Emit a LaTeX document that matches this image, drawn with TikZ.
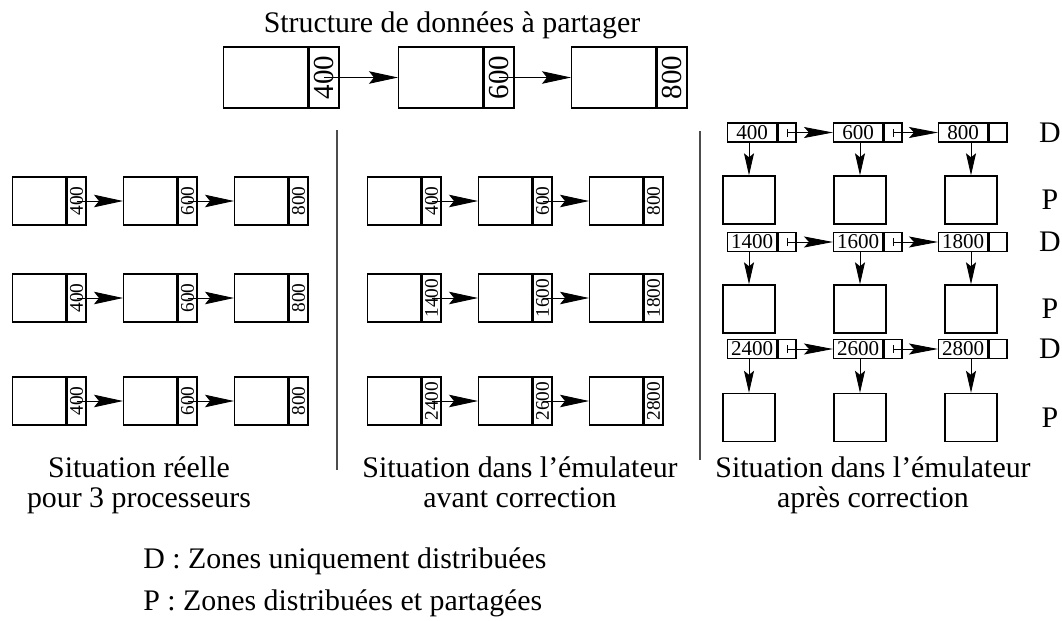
\documentclass[tikz,border=0pt]{standalone}
\usepackage{fontspec}
\setmainfont{Liberation Serif}
\usetikzlibrary{arrows.meta}

\begin{document}
\begin{tikzpicture}[x=0.02cm, y=-0.02cm,
    every node/.style={inner sep=0pt, font=\fontsize{17}{17}\selectfont},
    champ/.style={draw, line width=0.8pt},
    grand/.style={champ, anchor=west, minimum width=1.68cm, minimum height=1.22cm},
    grandptr/.style={champ, anchor=west, minimum width=0.6cm, minimum height=1.22cm, font=\fontsize{16.5}{16.5}\selectfont},
    moyen/.style={champ, anchor=west, minimum width=1.06cm, minimum height=0.96cm},
    moyenptr/.style={champ, anchor=west, minimum width=0.38cm, minimum height=0.96cm, font=\fontsize{11}{11}\selectfont},
    petit/.style={champ, anchor=west, minimum width=0.98cm, minimum height=0.38cm, font=\fontsize{12}{12}\selectfont},
    petitptr/.style={champ, anchor=west, minimum width=0.36cm, minimum height=0.38cm},
    zone/.style={champ, minimum width=1.04cm, minimum height=0.96cm},
    legende/.style={align=center, anchor=north},
    fleche/.style={line width=0.5pt, -{Stealth[length=0.58cm, width=0.25cm, inset=0.1cm]}},
    flecheD/.style={line width=0.5pt, {Bar[width=0.16cm]}-{Stealth[length=0.58cm, width=0.22cm, inset=0.1cm]}},
    flechebas/.style={line width=0.5pt, -{Stealth[length=0.44cm, width=0.2cm, inset=0.08cm]}},
    separation/.style={draw=black!70, line width=0.9pt}]

    \useasboundingbox (0,0) rectangle (1062,620);

    % Structure de depart
    \node (titre) at (452,25) {Structure de données à partager};
    \foreach \i/\x/\v in {1/223/400, 2/398/600, 3/571/800} {
        \node[grand] (s\i) at (\x,77.5) {};
        \node[grandptr] (sp\i) at (s\i.east) {\rotatebox{90}{\v}};
    }
    \foreach \i/\j in {1/2, 2/3}
        \draw[fleche] (sp\i.center) -- (s\j.west);

    % Situation reelle
    \foreach \r/\y in {1/201, 2/298, 3/401} {
        \foreach \c/\x/\v in {1/12/400, 2/123/600, 3/234/800} {
            \node[moyen] (g\r\c) at (\x,\y) {};
            \node[moyenptr] (gp\r\c) at (g\r\c.east) {\rotatebox{90}{\v}};
        }
        \draw[fleche] (gp\r1.center) -- (g\r2.west);
        \draw[fleche] (gp\r2.center) -- (g\r3.west);
    }

    % Emulateur avant correction
    \foreach \r/\y/\m in {1/201/{}, 2/298/1, 3/401/2} {
        \foreach \c/\x/\v in {1/367/4, 2/478/6, 3/589/8} {
            \node[moyen] (e\r\c) at (\x,\y) {};
            \node[moyenptr] (ep\r\c) at (e\r\c.east) {\rotatebox{90}{\m\v00}};
        }
        \draw[fleche] (ep\r1.center) -- (e\r2.west);
        \draw[fleche] (ep\r2.center) -- (e\r3.west);
    }

    % Emulateur apres correction
    \foreach \r/\yd/\yp/\m in {1/132.5/200/{}, 2/242/309/1, 3/349/417.5/2} {
        \foreach \c/\xd/\xp/\v in {1/727/749/4, 2/833/860/6, 3/938/971/8} {
            \node[petit] (d\r\c) at (\xd,\yd) {\m\v00};
            \node[petitptr] (dp\r\c) at (d\r\c.east) {};
            \node[zone] (p\r\c) at (\xp,\yp) {};
            \draw[flechebas] (p\r\c.north |- d\r\c.south) -- (p\r\c.north);
        }
        \draw[flecheD] (dp\r1.center) -- (d\r2.west);
        \draw[flecheD] (dp\r2.center) -- (d\r3.west);
        \node (lD\r) at (1050,\yd) {D};
        \node (lP\r) at (1050,\yp) {P};
    }

    % Separations
    \draw[separation] (337,130) -- (337,470);
    \draw[separation] (700,131) -- (700,460);

    % Legendes
    \node[legende] (leg1) at (139,456) {Situation réelle\\pour 3 processeurs};
    \node[legende] (leg2) at (520,456) {Situation dans l'émulateur\\avant correction};
    \node[legende] (leg3) at (873,456) {Situation dans l'émulateur\\après correction};
    \node[anchor=west] (cleD) at (143,561) {D : Zones uniquement distribuées};
    \node[anchor=west] (cleP) at (143,603) {P : Zones distribuées et partagées};

\end{tikzpicture}
\end{document}
